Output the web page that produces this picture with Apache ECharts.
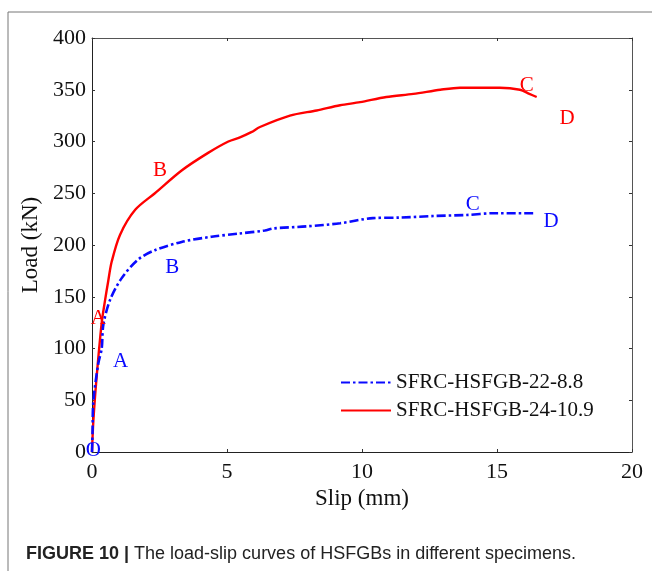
<!DOCTYPE html>
<html>
<head>
<meta charset="utf-8">
<script src="https://cdn.jsdelivr.net/npm/echarts@6/dist/echarts.min.js"></script>
<style>
  html, body { margin: 0; padding: 0; background: #fff; }
  #main { width: 652px; height: 571px; }
</style>
</head>
<body>
<div id="main"></div>
<script>
// series data
var redName = "SFRC-HSFGB-24-10.9";
var redSlip = [0, 0.05, 0.17, 0.36, 0.48, 0.6, 0.73, 1.04, 1.6, 2.33, 3.32, 4.3, 5.05, 5.48, 5.9, 6.22, 7.33, 8.32, 9.19, 9.93, 10.9, 11.9, 12.9, 13.63, 15.1, 15.85, 16.2, 16.47];
var redLoad = [0, 30, 72, 125, 146, 165, 184, 210, 234, 250, 272, 289, 300, 304, 309, 314, 325, 330, 335, 338, 343, 346, 350, 352, 352, 350, 346, 343];

var blueName = "SFRC-HSFGB-22-8.8";
var blueSlip = [0, 0.02, 0.05, 0.23, 0.36, 0.42, 0.67, 1.1, 1.71, 2.33, 3.32, 4.43, 5.42, 6.4, 6.72, 7.95, 9.19, 10.4, 11.4, 12.64, 13.88, 14.86, 16.34];
var blueLoad = [0, 20, 49, 85, 100, 123, 147, 168, 186, 195, 203, 208, 211, 214, 216, 218, 221, 226, 226.5, 228, 229, 230.7, 230.7];

// stage letters on the curves
var redMarkSlip = [0.23, 2.52, 16.1, 17.6];
var redMarkLoad = [129, 272, 354, 322];
var redMarkText = ["A", "B", "C", "D"];
var blueMarkSlip = [0.05, 1.06, 2.97, 14.1, 17.0];
var blueMarkLoad = [1, 87, 178, 239, 223];
var blueMarkText = ["O", "A", "B", "C", "D"];

var xTicks = [0, 20, 5];   // min, max, interval
var yTicks = [0, 400, 50];

function pairs(xs, ys) {
  var out = [];
  for (var i = 0; i < xs.length; i++) out.push([xs[i], ys[i]]);
  return out;
}
function marks(xs, ys, txt) {
  var out = [];
  for (var i = 0; i < xs.length; i++) out.push({ value: [xs[i], ys[i]], name: txt[i] });
  return out;
}

var serif = "'Liberation Serif', 'Times New Roman', serif";
var sans = "'Liberation Sans', Arial, sans-serif";
var RED = "#ff0000";
var BLUE = "#0a0aff";

var chart = echarts.init(document.getElementById("main"));

var markLabel = function (color) {
  return {
    show: true,
    position: "inside",
    formatter: "{b}",
    color: color,
    opacity: 1,
    fontFamily: serif,
    fontSize: 21,
  };
};

var option = {
  animation: false,
  backgroundColor: "#fff",
  grid: { left: 92, right: 20, top: 38, bottom: 119 },
  legend: {
    data: [blueName, redName],
    orient: "vertical",
    left: 340,
    top: 372,
    padding: 0,
    itemWidth: 50,
    itemHeight: 14,
    itemGap: 7,
    itemStyle: { opacity: 0 },
    textStyle: { fontFamily: serif, fontSize: 21, color: "#111" },
  },
  xAxis: [
    {
      type: "value",
      min: xTicks[0],
      max: xTicks[1],
      interval: xTicks[2],
      name: "Slip (mm)",
      nameLocation: "middle",
      nameGap: 32,
      nameTextStyle: { fontFamily: serif, fontSize: 23, color: "#111" },
      axisLine: { onZero: false, lineStyle: { color: "#222", width: 1 } },
      axisTick: { inside: true, length: 3, lineStyle: { color: "#333" } },
      axisLabel: { fontFamily: serif, fontSize: 22, color: "#111", margin: 9 },
      splitLine: { show: false },
    },
    {
      type: "value",
      position: "top",
      min: xTicks[0],
      max: xTicks[1],
      interval: xTicks[2],
      axisLine: { onZero: false, lineStyle: { color: "#555", width: 1 } },
      axisTick: { inside: true, length: 3, lineStyle: { color: "#333" } },
      axisLabel: { show: false },
      splitLine: { show: false },
    },
  ],
  yAxis: [
    {
      type: "value",
      min: yTicks[0],
      max: yTicks[1],
      interval: yTicks[2],
      name: "Load (kN)",
      nameLocation: "middle",
      nameGap: 46,
      nameTextStyle: { fontFamily: serif, fontSize: 23, color: "#111" },
      axisLine: { onZero: false, lineStyle: { color: "#222", width: 1 } },
      axisTick: { inside: true, length: 3, lineStyle: { color: "#333" } },
      axisLabel: { fontFamily: serif, fontSize: 22, color: "#111", margin: 6 },
      splitLine: { show: false },
    },
    {
      type: "value",
      position: "right",
      min: yTicks[0],
      max: yTicks[1],
      interval: yTicks[2],
      axisLine: { onZero: false, lineStyle: { color: "#555", width: 1 } },
      axisTick: { inside: true, length: 3, lineStyle: { color: "#333" } },
      axisLabel: { show: false },
      splitLine: { show: false },
    },
  ],
  series: [
    {
      name: blueName,
      type: "line",
      data: pairs(blueSlip, blueLoad),
      showSymbol: false,
      symbol: "none",
      smooth: 0.3,
      lineStyle: { color: BLUE, width: 2.6, type: [9, 3, 2.5, 3] },
      itemStyle: { color: BLUE },
      z: 3,
    },
    {
      name: redName,
      type: "line",
      data: pairs(redSlip, redLoad),
      showSymbol: false,
      symbol: "none",
      smooth: 0.3,
      lineStyle: { color: RED, width: 2.4 },
      itemStyle: { color: RED },
      z: 2,
    },
    {
      name: "redMarks",
      type: "scatter",
      data: marks(redMarkSlip, redMarkLoad, redMarkText),
      symbolSize: 0,
      itemStyle: { color: RED },
      label: markLabel(RED),
      silent: true,
      z: 4,
    },
    {
      name: "blueMarks",
      type: "scatter",
      data: marks(blueMarkSlip, blueMarkLoad, blueMarkText),
      symbolSize: 0,
      itemStyle: { color: BLUE },
      label: markLabel(BLUE),
      silent: true,
      z: 4,
    },
  ],
  graphic: [
    {
      type: "line",
      shape: { x1: 8, y1: 12, x2: 652, y2: 12 },
      style: { stroke: "#777", lineWidth: 1 },
    },
    {
      type: "line",
      shape: { x1: 8, y1: 12, x2: 8, y2: 571 },
      style: { stroke: "#777", lineWidth: 1 },
    },
    {
      type: "text",
      left: 26,
      top: 545,
      style: {
        text: "{b|FIGURE 10 |} The load-slip curves of HSFGBs in different specimens.",
        rich: {
          b: { fontFamily: sans, fontSize: 18, fontWeight: "bold", fill: "#222" },
        },
        fontFamily: sans,
        fontSize: 18,
        fill: "#222",
      },
    },
  ],
};

chart.setOption(option);
</script>
</body>
</html>
